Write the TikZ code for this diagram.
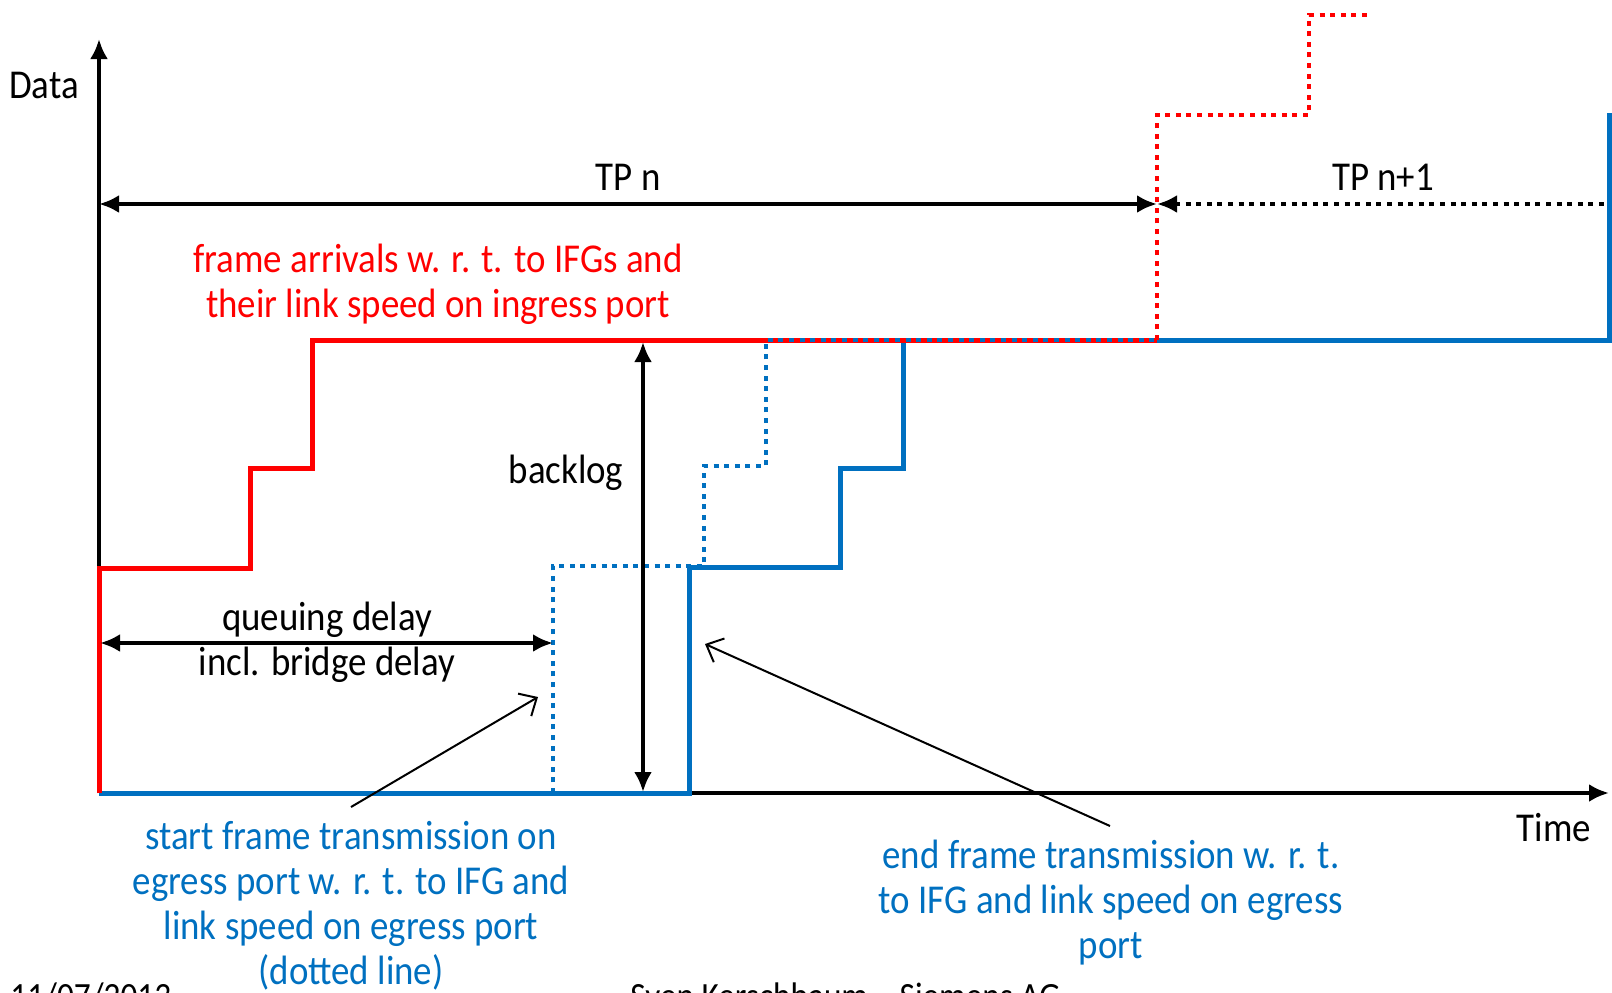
\documentclass[tikz,border=0pt]{standalone}
\usepackage{fontspec}
\setmainfont{Carlito}[FakeStretch=0.9]
\usetikzlibrary{arrows.meta}
\usetikzlibrary{positioning}
\definecolor{ingress}{RGB}{255,0,0}
\definecolor{egress}{RGB}{0,112,192}

\begin{document}
\begin{tikzpicture}
    [
    x=0.5pt,y=-0.5pt,
    axis/.style={line width=2pt,-{Latex[length=10pt,width=9pt]}},
    span/.style={line width=2pt,{Latex[length=10pt,width=9pt]}-{Latex[length=10pt,width=9pt]}},
    pointer/.style={line width=1pt,-{Straight Barb[length=7pt,width=13pt]}},
    arrival/.style={draw=ingress,line width=2.5pt},
    sent/.style={draw=egress,line width=2.5pt},
    dots/.style={line width=2.4pt,dash pattern=on 2.5pt off 2.8pt},
    lbl/.style={font=\fontsize{20.5}{22.5}\selectfont,align=center,inner sep=0pt},
    foot/.style={font=\fontsize{18.5}{20}\selectfont,inner sep=0pt,anchor=north west},
    ]
    \useasboundingbox (0,0) rectangle (1612,992);

    % axes
    \coordinate (o) at (99,793);
    \coordinate (ytop) at (99,39);
    \coordinate (xend) at (1609,793);
    \draw [axis] (o) to (ytop);
    \draw [axis] (o) to (xend);
    \node (data) at (44,85) [lbl] {Data};
    \node (time) at (1554,828) [lbl] {Time};

    % transmission periods
    \coordinate (tpl) at (99,204);
    \coordinate (tpr) at (1157,204);
    \coordinate (tpend) at (1609,204);
    \draw [span] (tpl) to (tpr);
    \draw [dots,{Latex[length=10pt,width=9pt]}-] (tpr) to (tpend);
    \node (tpn) at (628,177) [lbl] {TP n};
    \node (tpnext) at (1383,177) [lbl] {TP n+1};

    % curves
    \draw [sent] (o) -| (689,567) -| (840,468) -| (903,340) -| (1609,113);
    \draw [arrival] (o) |- (250,568) |- (312,468) |- (1157,340);
    \draw [sent,dots] (553,793) |- (704,566) |- (766,466) |- (1157,340);
    \draw [arrival,dots] (1157,340) |- (1309,115) |- (1367,15);

    \node (ingress) at (438,284) [lbl,text=ingress]
      {frame arrivals w. r. t. to IFGs and\\their link speed on ingress port};

    % delays
    \coordinate (bltop) at (643,342);
    \coordinate (blbot) at (643,792);
    \draw [span] (blbot) to (bltop);
    \node (backlog) at (566,473) [lbl] {backlog};

    \coordinate (qstart) at (100,643);
    \coordinate (qend) at (553,643);
    \draw [span] (qstart) to (qend);
    \node (queue) at (327,620) [lbl] {queuing delay};
    \node (bridge) at (327,665) [lbl] {incl. bridge delay};

    % annotations
    \node (start) at (351,906) [lbl,text=egress]
      {start frame transmission on\\egress port w. r. t. to IFG and\\link speed on egress port\\(dotted line)};
    \node (end) at (1111,903) [lbl,text=egress]
      {end frame transmission w. r. t.\\to IFG and link speed on egress\\port};
    \coordinate (starttail) at (351,807);
    \coordinate (starttip) at (538,697);
    \coordinate (endtail) at (1110,826);
    \coordinate (endtip) at (705,644);
    \draw [pointer] (starttail) to (starttip);
    \draw [pointer] (endtail) to (endtip);

    % footer
    \node (date) at (10,982) [foot] {11/07/2013};
    \node (author) at (630,982) [foot] {Sven Kerschbaum -- Siemens AG};
  \end{tikzpicture}
\end{document}
